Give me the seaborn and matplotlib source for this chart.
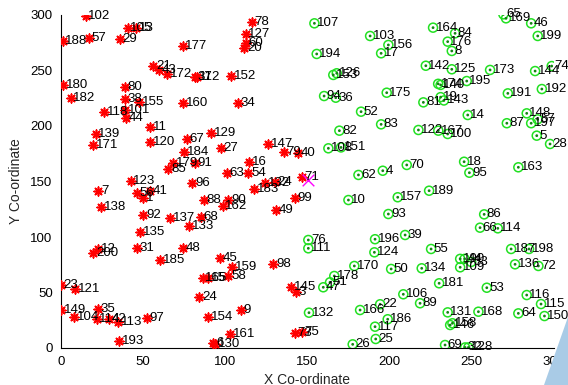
import matplotlib
matplotlib.use('Agg')
import matplotlib.pyplot as plt
from matplotlib.patches import Polygon
import seaborn as sns
import pandas as pd

# ---- red nodes (asterisks) ----
red_ids = [102, 105, 13, 188, 57, 29, 180, 182, 80, 38, 155, 118, 101, 44, 21, 43, 172, 177,
           78, 127, 60, 20, 37, 112, 152, 160, 34, 11, 139, 171, 120, 123, 7, 56, 41, 1, 138,
           92, 135, 137, 85, 179, 91, 67, 129, 184, 27, 147, 79, 40, 16, 63, 54, 96, 132, 24,
           183, 88, 90, 162, 99, 49, 68, 133, 71, 12, 200, 31, 185, 23, 121, 149, 35, 104,
           114, 42, 113, 97, 193, 48, 45, 159, 98, 165, 15, 58, 24, 9, 154, 161, 130, 6, 145,
           3, 73, 75]
red_x = [15.0, 40.6, 45.6, 1.0, 17.0, 35.9, 1.4, 5.9, 39.0, 39.0, 47.7, 26.4, 39.0, 39.6, 56.2,
         59.8, 64.7, 74.1, 116.1, 112.4, 112.4, 111.6, 81.6, 82.6, 103.5, 74.4, 107.9, 54.2,
         21.1, 19.7, 54.2, 42.4, 22.7, 46.4, 54.2, 50.1, 24.3, 50.1, 48.1, 66.3, 65.3, 68.4,
         81.6, 76.5, 91.3, 75.0, 97.2, 126.2, 135.7, 144.4, 114.6, 100.8, 114.0, 79.9, 124.2,
         130.0, 117.5, 87.0, 101.8, 98.4, 142.4, 130.9, 85.0, 78.1, 146.5, 22.7, 19.7, 46.1,
         60.3, 0.0, 8.5, 0.0, 22.3, 7.9, 21.7, 29.4, 34.9, 52.2, 35.5, 74.1, 96.8, 104.3,
         129.2, 86.2, 89.7, 101.8, 84.2, 109.4, 89.7, 102.9, 93.7, 92.7, 140.0, 143.0, 142.4,
         146.5]
red_y = [299.4, 288.0, 288.0, 276.8, 279.6, 278.1, 236.9, 225.5, 235.4, 224.3, 221.3, 212.3,
         214.4, 207.5, 254.1, 250.5, 246.6, 272.3, 294.0, 282.9, 274.5, 270.5, 244.4, 244.4,
         245.0, 221.0, 221.0, 199.4, 192.8, 182.9, 185.3, 150.5, 141.7, 139.9, 141.4, 135.4,
         126.7, 119.8, 104.8, 117.4, 161.0, 166.4, 166.4, 188.3, 193.4, 176.2, 179.9, 183.8,
         176.2, 175.4, 167.3, 158.0, 158.0, 148.3, 148.9, 149.5, 142.9, 133.3, 133.3, 127.9,
         135.4, 124.3, 118.3, 110.2, 153.8, 89.2, 85.3, 90.4, 79.3, 56.8, 53.2, 34.2, 35.1,
         28.2, 26.1, 26.1, 23.2, 27.3, 6.3, 90.4, 80.8, 72.7, 75.4, 63.3, 62.8, 64.9, 46.2,
         34.2, 27.7, 12.3, 3.6, 4.8, 54.7, 50.2, 13.8, 14.7]

# ---- green nodes (circles) ----
green_ids = [107, 103, 156, 17, 194, 142, 126, 153, 94, 36, 175, 52, 83, 164, 84, 176, 8, 65,
             169, 46, 199, 125, 173, 144, 74, 174, 140, 195, 191, 192, 19, 143, 81, 14, 148,
             87, 197, 57, 5, 28, 122, 167, 100, 18, 95, 163, 86, 66, 114, 189, 157, 10, 93,
             196, 39, 82, 108, 151, 62, 4, 70, 76, 111, 124, 170, 50, 134, 55, 178, 51, 47,
             106, 89, 22, 166, 132, 186, 117, 25, 26, 181, 190, 44, 33, 109, 53, 131, 168,
             146, 158, 69, 32, 128, 187, 198, 136, 72, 116, 115, 64, 150]
green_x = [154.2, 188.1, 199.2, 194.8, 155.6, 222.0, 167.8, 165.7, 160.1, 167.2, 198.2, 182.6,
           194.8, 226.4, 239.8, 235.3, 237.8, 269.2, 270.8, 286.1, 290.1, 237.8, 261.1, 288.5,
           298.6, 229.5, 231.0, 246.9, 271.9, 292.6, 231.0, 233.0, 220.5, 247.5, 283.4, 271.3,
           286.1, 290.0, 289.5, 297.6, 217.5, 229.6, 235.3, 245.3, 248.5, 278.3, 257.5, 255.0,
           265.8, 224.0, 204.9, 174.9, 199.2, 191.1, 209.4, 169.4, 162.7, 170.4, 181.0, 195.8,
           210.4, 150.5, 150.5, 190.7, 178.5, 200.9, 219.5, 225.2, 166.3, 163.7, 159.6, 208.3,
           218.5, 194.2, 182.0, 150.9, 198.8, 191.1, 191.5, 177.5, 230.1, 242.9, 245.6, 249.6,
           242.9, 259.1, 235.3, 254.0, 236.8, 238.2, 233.7, 245.9, 247.9, 273.9, 284.8, 276.3,
           290.5, 283.4, 292.1, 278.3, 294.2]
green_y = [292.5, 281.1, 273.0, 265.5, 264.9, 254.3, 247.5, 246.0, 227.0, 225.5, 230.0, 212.9,
           201.5, 288.6, 283.5, 276.0, 267.6, 300.6, 297.0, 292.5, 281.1, 251.1, 250.5, 249.5,
           254.0, 238.0, 237.0, 240.5, 229.4, 233.3, 226.0, 223.0, 221.3, 209.9, 211.4, 202.5,
           202.5, 206.0, 191.3, 183.8, 196.4, 195.8, 192.8, 167.8, 157.9, 162.8, 120.4, 108.4,
           107.8, 141.7, 135.8, 133.3, 120.7, 98.0, 101.8, 195.8, 179.9, 180.7, 155.9, 159.7,
           164.9, 97.3, 89.8, 86.2, 73.9, 71.2, 71.8, 89.2, 64.9, 59.2, 54.7, 48.4, 40.3, 39.4,
           34.2, 31.8, 25.9, 19.2, 8.1, 3.3, 58.3, 80.3, 80.3, 77.5, 72.7, 54.3, 32.1, 32.7,
           20.7, 22.3, 2.7, 0.5, 0.5, 89.2, 89.2, 75.4, 73.9, 47.7, 39.6, 31.2, 28.8]

sink_x = [150.0]
sink_y = [151.5]

xticks = [0, 50, 100, 150, 200, 250, 300]
yticks = [0, 50, 100, 150, 200, 250, 300]

red = pd.DataFrame({"id": red_ids, "x": red_x, "y": red_y})
green = pd.DataFrame({"id": green_ids, "x": green_x, "y": green_y})
sink = pd.DataFrame({"x": sink_x, "y": sink_y})

sns.set_theme(style="white")
plt.rcParams['font.family'] = ['Liberation Sans', 'DejaVu Sans']

fig = plt.figure(figsize=(5.68, 3.85), dpi=100)
ax = fig.add_axes([61 / 568, 37 / 385, 493 / 568, 333 / 385])

GREEN = "#22e022"
sns.scatterplot(data=green, x="x", y="y", ax=ax, marker="o", s=42,
                facecolor="none", edgecolor=GREEN, linewidth=1.1, legend=False, zorder=3)
sns.scatterplot(data=green, x="x", y="y", ax=ax, marker="o", s=4,
                color="#118811", edgecolor="none", linewidth=0, legend=False, zorder=4)
sns.scatterplot(data=red, x="x", y="y", ax=ax, marker=(8, 2, 0), s=38,
                color="red", linewidth=1.2, legend=False, zorder=3)
sns.scatterplot(data=sink, x="x", y="y", ax=ax, marker="x", s=70,
                color="magenta", linewidth=1.0, legend=False, zorder=5)

for df in (red, green):
    for i, xx, yy in zip(df["id"], df["x"], df["y"]):
        ax.text(xx + 1.6, yy, str(i), fontsize=9.5, va="center", ha="left",
                color="black", zorder=6, clip_on=False)

ax.set_xlim(0, 300)
ax.set_ylim(0, 300)
ax.set_xticks(xticks)
ax.set_yticks(yticks)
ax.tick_params(direction="in", length=4, width=0.8, labelsize=9.5, colors="black", pad=6)
for side in ("top", "right"):
    ax.spines[side].set_visible(False)
for side in ("left", "bottom"):
    ax.spines[side].set_color("black")
    ax.spines[side].set_linewidth(0.8)
ax.set_xlabel("X Co-ordinate", fontsize=10, labelpad=3)
ax.set_ylabel("Y Co-ordinate", fontsize=10, labelpad=5)
ax.set_facecolor("white")

# light blue wedge in the lower-right corner of the picture
fig.patches.append(Polygon([[544 / 568, 0], [1, 0], [1, 68 / 385]], closed=True,
                           transform=fig.transFigure, facecolor="#a9cbe6",
                           edgecolor="none", zorder=10))

fig.savefig("out.png", dpi=100)
